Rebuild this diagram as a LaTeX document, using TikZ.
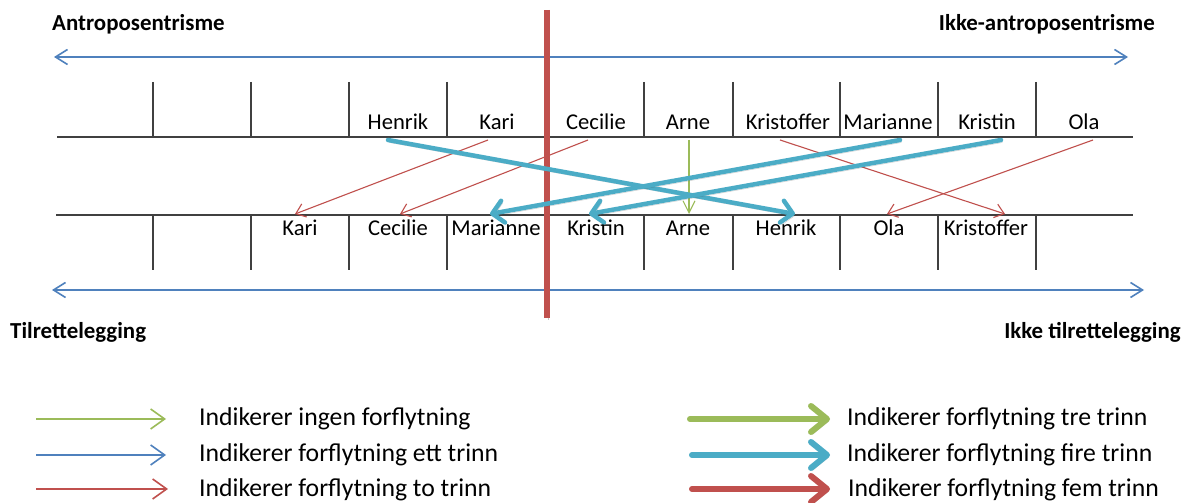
\documentclass[tikz,border=0pt]{standalone}
\usepackage{fontspec}
\setmainfont{Carlito}
\usetikzlibrary{arrows.meta}
\definecolor{oblue}{HTML}{4F81BD}
\definecolor{ored}{HTML}{C0504D}
\definecolor{ogreen}{HTML}{9BBB59}
\definecolor{ocyan}{HTML}{4BACC6}
\definecolor{grid}{HTML}{404040}
\begin{document}
\begin{tikzpicture}[x=1pt,y=1pt,
  namelbl/.style={font=\fontsize{22.6}{27}\selectfont, inner sep=0pt, anchor=base},
  headlbl/.style={font=\fontsize{22.9}{27}\selectfont\bfseries, inner sep=0pt},
  leglbl/.style={font=\fontsize{25.7}{30}\selectfont, inner sep=0pt, anchor=base west},
  gridline/.style={draw=grid, line width=1.1pt},
  axis/.style={draw=oblue, line width=1.6pt, {Straight Barb[length=12pt,width=15pt]}-{Straight Barb[length=12pt,width=15pt]}},
  thin/.style={line width=1.1pt, -{Straight Barb[length=9pt,width=14pt]}},
  legthin/.style={line width=1.6pt, -{Straight Barb[length=14pt,width=20pt]}},
  shadowed/.style={preaction={draw=black!70, opacity=0.3, transform canvas={shift={(1.5pt,-2.5pt)}}}},
  thick/.style={shadowed, line width=4.5pt, line cap=round, -{Straight Barb[round,length=11pt,width=22pt]}},
  legthick/.style={shadowed, line width=6pt, line cap=round, -{Straight Barb[round,length=16pt,width=26pt]}}
]
\fill[white] (0,0) rectangle (1189,503);
\useasboundingbox (0,0) rectangle (1189,503);

% headers
\node[headlbl, anchor=base west] (hA) at (52,472) {Antroposentrisme};
\node[headlbl, anchor=base east] (hIA) at (1155,472) {Ikke-antroposentrisme};
\node[headlbl, anchor=base west] (hT) at (10,164) {Tilrettelegging};
\node[headlbl, anchor=base east] (hIT) at (1181,164) {Ikke tilrettelegging};

% axes
\coordinate (atl) at (54,446);
\coordinate (atr) at (1128,446);
\coordinate (abl) at (52,213);
\coordinate (abr) at (1144,213);
\draw[axis] (atl) -- (atr);
\draw[axis] (abl) -- (abr);

% grid
\draw[gridline] (57,366) -- (1133,366);
\draw[gridline] (56,288) -- (1133,288);
\foreach \x in {153,251,349,447,547,644,733,840,938,1036}{
  \draw[gridline] (\x,421) -- (\x,366);
  \draw[gridline] (\x,288) -- (\x,233);
}

% top names
\node[namelbl] (tHenrik) at (398,373) {Henrik};
\node[namelbl] (tKari) at (497,373) {Kari};
\node[namelbl] (tCecilie) at (596,373) {Cecilie};
\node[namelbl] (tArne) at (688,373) {Arne};
\node[namelbl] (tKristoffer) at (788,373) {Kristoffer};
\node[namelbl] (tMarianne) at (888,373) {Marianne};
\node[namelbl] (tKristin) at (987,373) {Kristin};
\node[namelbl] (tOla) at (1084,373) {Ola};

% bottom names
\node[namelbl] (bKari) at (300,267) {Kari};
\node[namelbl] (bCecilie) at (398,267) {Cecilie};
\node[namelbl] (bMarianne) at (496,267) {Marianne};
\node[namelbl] (bKristin) at (596,267) {Kristin};
\node[namelbl] (bArne) at (688,267) {Arne};
\node[namelbl] (bHenrik) at (786,267) {Henrik};
\node[namelbl] (bOla) at (889,267) {Ola};
\node[namelbl] (bKristoffer) at (986,267) {Kristoffer};

% thin moves
\draw[thin, draw=ored] ([xshift=-9pt,yshift=-10pt]tKari.base) -- ([xshift=-5pt,yshift=22pt]bKari.base);
\draw[thin, draw=ored] ([xshift=-8pt,yshift=-10pt]tCecilie.base) -- ([xshift=2pt,yshift=22pt]bCecilie.base);
\draw[thin, draw=ored] ([xshift=-8pt,yshift=-10pt]tKristoffer.base) -- ([xshift=19pt,yshift=22pt]bKristoffer.base);
\draw[thin, draw=ored] ([xshift=9pt,yshift=-10pt]tOla.base) -- ([xshift=-2pt,yshift=22pt]bOla.base);
\draw[thin, draw=ogreen, -{Straight Barb[length=12pt,width=12pt]}] ([xshift=1pt,yshift=-10pt]tArne.base) -- ([xshift=1pt,yshift=22pt]bArne.base);

% red divider
\coordinate (rtop) at (547,493);
\coordinate (rbot) at (547,185);
\draw[shadowed, draw=ored, line width=5.5pt] (rtop) -- (rbot);

% thick moves
\draw[thick, draw=ocyan] ([xshift=-10pt,yshift=-10pt]tHenrik.base) -- ([xshift=9pt,yshift=22pt]bHenrik.base);
\draw[thick, draw=ocyan] ([xshift=12pt,yshift=-10pt]tMarianne.base) -- ([xshift=-6pt,yshift=22pt]bMarianne.base);
\draw[thick, draw=ocyan] ([xshift=14pt,yshift=-10pt]tKristin.base) -- ([xshift=-7pt,yshift=22pt]bKristin.base);

% legend left
\coordinate (l1a) at (36,84);  \coordinate (l1b) at (166,84);
\coordinate (l2a) at (36,48);  \coordinate (l2b) at (166,48);
\coordinate (l3a) at (36,14);  \coordinate (l3b) at (168,14);
\draw[legthin, draw=ogreen] (l1a) -- (l1b);
\draw[legthin, draw=oblue] (l2a) -- (l2b);
\draw[legthin, draw=ored] (l3a) -- (l3b);
\node[leglbl] (g1) at (199,77) {Indikerer ingen forflytning};
\node[leglbl] (g2) at (199,41) {Indikerer forflytning ett trinn};
\node[leglbl] (g3) at (199,6) {Indikerer forflytning to trinn};

% legend right
\coordinate (r1a) at (690,84);  \coordinate (r1b) at (830,84);
\coordinate (r2a) at (692,48);  \coordinate (r2b) at (830,48);
\coordinate (r3a) at (692,14);  \coordinate (r3b) at (830,14);
\draw[legthick, draw=ogreen] (r1a) -- (r1b);
\draw[legthick, draw=ocyan] (r2a) -- (r2b);
\draw[legthick, draw=ored] (r3a) -- (r3b);
\node[leglbl] (g4) at (847,77) {Indikerer forflytning tre trinn};
\node[leglbl] (g5) at (847,41) {Indikerer forflytning fire trinn};
\node[leglbl] (g6) at (848,6) {Indikerer forflytning fem trinn};
\end{tikzpicture}
\end{document}
